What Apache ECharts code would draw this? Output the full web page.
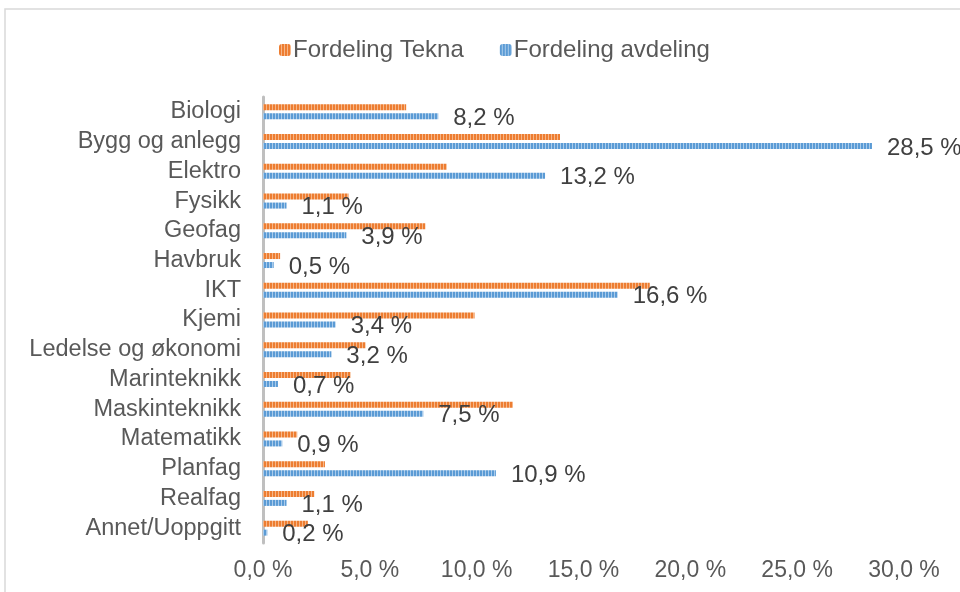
<!DOCTYPE html>
<html>
<head>
<meta charset="utf-8">
<script src="https://cdn.jsdelivr.net/npm/echarts@6/dist/echarts.min.js"></script>
<style>
html,body{margin:0;padding:0;background:#fff;}
#c{width:960px;height:592px;}
</style>
</head>
<body>
<div id="c"></div>
<script>
var categories = ['Biologi','Bygg og anlegg','Elektro','Fysikk','Geofag','Havbruk','IKT','Kjemi','Ledelse og økonomi','Marinteknikk','Maskinteknikk','Matematikk','Planfag','Realfag','Annet/Uoppgitt'];
var seriesNames = ['Fordeling Tekna','Fordeling avdeling'];
var teknaValues = [6.7, 13.9, 8.6, 4.0, 7.6, 0.8, 18.1, 9.9, 4.8, 4.1, 11.7, 1.6, 2.9, 2.4, 2.1];
var avdelingValues = [8.2, 28.5, 13.2, 1.1, 3.9, 0.5, 16.6, 3.4, 3.2, 0.7, 7.5, 0.9, 10.9, 1.1, 0.2];
var xTicks = [0, 5, 10, 15, 20, 25, 30];

function pattern(base, light) {
  var c = document.createElement('canvas');
  c.width = 3; c.height = 8;
  var g = c.getContext('2d');
  g.fillStyle = base; g.fillRect(0, 0, 3, 8);
  g.fillStyle = light; g.fillRect(2, 0, 1, 8);
  return { image: c, repeat: 'repeat' };
}
function fmt(v) { return v.toFixed(1).replace('.', ',') + ' %'; }

var FONT = 'Liberation Sans, Arial, sans-serif';
var chart = echarts.init(document.getElementById('c'), null, { renderer: 'canvas' });
chart.setOption({
  animation: false,
  backgroundColor: '#fff',
  graphic: [{
    type: 'rect', shape: { x: 5, y: 9, width: 1000, height: 700 },
    style: { fill: 'none', stroke: '#d9d9d9', lineWidth: 1.5 }, silent: true, z: -1
  }],
  legend: {
    left: 274, top: 33,
    itemWidth: 12, itemHeight: 12, itemGap: 36,
    textStyle: { fontFamily: FONT, fontSize: 24, color: '#595959', padding: [0,0,0,-3] },
    data: seriesNames
  },
  grid: { left: 263, top: 97, width: 641, height: 446, containLabel: false },
  xAxis: {
    type: 'value', min: xTicks[0], max: xTicks[xTicks.length - 1], interval: 5,
    axisLine: { show: false }, axisTick: { show: false },
    splitLine: { show: false },
    axisLabel: { formatter: fmt, fontFamily: FONT, fontSize: 23, color: '#595959', margin: 16 }
  },
  yAxis: {
    type: 'category', data: categories, inverse: true,
    axisLine: { show: true, lineStyle: { color: '#bfbfbf', width: 3 } },
    axisTick: { show: false },
    axisLabel: { interval: 0, fontFamily: FONT, fontSize: 23.5, color: '#595959', margin: 22 }
  },
  series: [
    {
      name: seriesNames[0], type: 'bar', data: teknaValues,
      barWidth: 6, barGap: '50%',
      itemStyle: { color: pattern('#ED7D31', '#F6B688') }
    },
    {
      name: seriesNames[1], type: 'bar', data: avdelingValues,
      barWidth: 6, barGap: '50%',
      itemStyle: { color: pattern('#5B9BD5', '#A9CBEB') },
      label: {
        show: true, position: 'right', distance: 15, offset: [0, 2],
        formatter: function (p) { return fmt(p.value); },
        fontFamily: FONT, fontSize: 24, color: '#404040'
      }
    }
  ]
});
</script>
</body>
</html>
